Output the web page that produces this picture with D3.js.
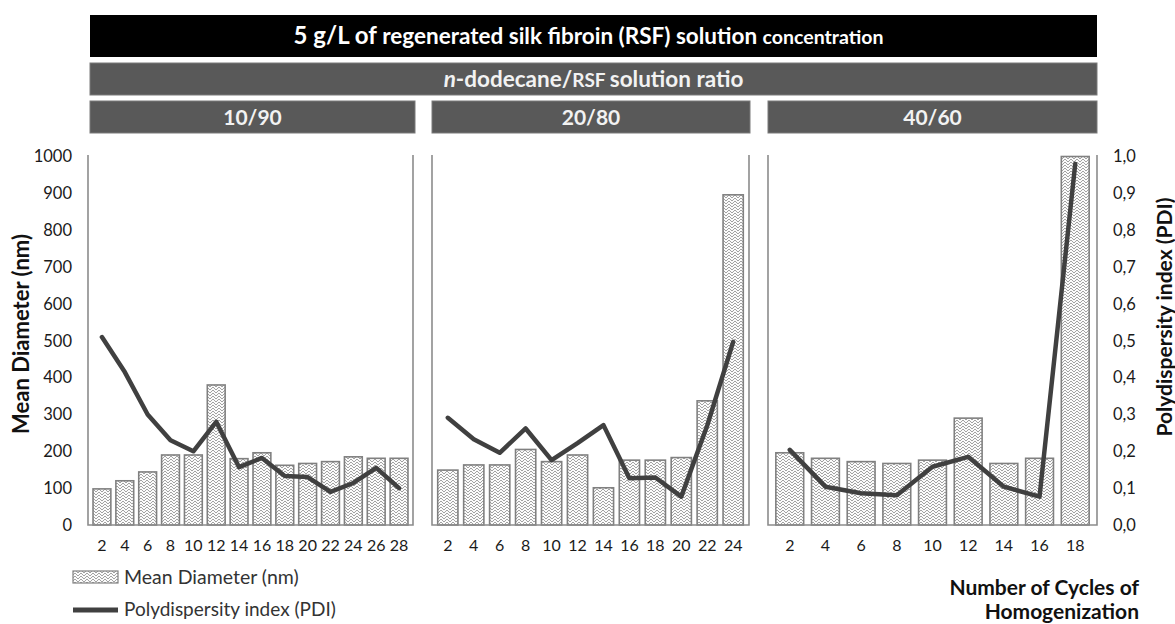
<!DOCTYPE html>
<html>
<head>
<meta charset="utf-8">
<script src="https://cdn.jsdelivr.net/npm/d3@7"></script>
<style>
  body { margin: 0; background: #fff; }
  svg { display: block; }
  text { font-family: Lato, "Open Sans", sans-serif; }
</style>
</head>
<body>
<svg id="chart" width="1175" height="624"></svg>
<script>
// ---- data -------------------------------------------------------------
const ratios = ["10/90", "20/80", "40/60"];

const cycles1   = [2, 4, 6, 8, 10, 12, 14, 16, 18, 20, 22, 24, 26, 28];
const diameter1 = [98, 120, 144, 190, 190, 380, 180, 196, 162, 167, 172, 185, 181, 181];
const pdi1      = [0.51, 0.415, 0.30, 0.23, 0.20, 0.28, 0.157, 0.182, 0.133, 0.13, 0.09, 0.114, 0.155, 0.10];

const cycles2   = [2, 4, 6, 8, 10, 12, 14, 16, 18, 20, 22, 24];
const diameter2 = [149, 163, 163, 205, 172, 190, 101, 176, 176, 183, 337, 896];
const pdi2      = [0.291, 0.233, 0.196, 0.262, 0.176, 0.222, 0.271, 0.127, 0.129, 0.077, 0.27, 0.497];

const cycles3   = [2, 4, 6, 8, 10, 12, 14, 16, 18];
const diameter3 = [196, 181, 172, 167, 176, 290, 167, 181, 1000];
const pdi3      = [0.204, 0.104, 0.086, 0.081, 0.158, 0.185, 0.104, 0.077, 0.98];

const diameterTicks = [0, 100, 200, 300, 400, 500, 600, 700, 800, 900, 1000];
const pdiTicks      = [0, 0.1, 0.2, 0.3, 0.4, 0.5, 0.6, 0.7, 0.8, 0.9, 1.0];

const panels = [
  { ratio: ratios[0], cycles: cycles1, diameter: diameter1, pdi: pdi1 },
  { ratio: ratios[1], cycles: cycles2, diameter: diameter2, pdi: pdi2 },
  { ratio: ratios[2], cycles: cycles3, diameter: diameter3, pdi: pdi3 }
];

// ---- layout -----------------------------------------------------------
const svg = d3.select("#chart");
const plotTop = 156.5, plotBottom = 525, frameTop = 155;
const panelX = [[88, 413], [432, 749], [768, 1097]];
const headerX = [[90, 415], [432, 750], [768, 1097]];
const bannerX = [90, 1097];

const yDia = d3.scaleLinear().domain([0, 1000]).range([plotBottom, plotTop]);
const yPdi = d3.scaleLinear().domain([0, 1]).range([plotBottom, plotTop]);

// zig-zag hatch used as the bar fill
const defs = svg.append("defs");
const pat = defs.append("pattern")
  .attr("id", "hatch").attr("patternUnits", "userSpaceOnUse")
  .attr("width", 6).attr("height", 6);
pat.append("rect").attr("width", 6).attr("height", 6).attr("fill", "#fbfbfb");
pat.append("path")
  .attr("d", "M0,3 L3,0 L6,3 M0,6 L3,3 L6,6")
  .attr("fill", "none").attr("stroke", "#a2a2a2").attr("stroke-width", 1);

// ---- banners ----------------------------------------------------------
svg.append("rect").attr("x", bannerX[0]).attr("y", 15)
  .attr("width", bannerX[1] - bannerX[0]).attr("height", 42).attr("fill", "#000");
const t1 = svg.append("text").attr("x", (bannerX[0] + bannerX[1]) / 2 - 5).attr("y", 44)
  .attr("text-anchor", "middle").attr("fill", "#fff").attr("font-weight", "bold");
t1.append("tspan").attr("font-size", 24).text("5 g/L of ");
t1.append("tspan").attr("font-size", 22.5).text("regenerated silk fibroin (RSF) solution ");
t1.append("tspan").attr("font-size", 19.5).text("concentration");

svg.append("rect").attr("x", bannerX[0]).attr("y", 63)
  .attr("width", bannerX[1] - bannerX[0]).attr("height", 32)
  .attr("fill", "#595959").attr("stroke", "#7a7a7a").attr("stroke-width", 1);
const t2 = svg.append("text").attr("x", (bannerX[0] + bannerX[1]) / 2).attr("y", 87)
  .attr("text-anchor", "middle").attr("fill", "#f2f2f2").attr("font-size", 22.5)
  .attr("font-weight", "bold");
t2.append("tspan").attr("font-style", "italic").text("n");
t2.append("tspan").text("-dodecane/");
t2.append("tspan").attr("font-size", 19).text("RSF ");
t2.append("tspan").text(" solution ratio");

// ---- panels -----------------------------------------------------------
panels.forEach((p, i) => {
  const [x0, x1] = panelX[i];
  const [hx0, hx1] = headerX[i];

  svg.append("rect").attr("x", hx0).attr("y", 101)
    .attr("width", hx1 - hx0).attr("height", 32)
    .attr("fill", "#595959").attr("stroke", "#7a7a7a").attr("stroke-width", 1);
  svg.append("text").attr("x", (hx0 + hx1) / 2).attr("y", 124.5)
    .attr("text-anchor", "middle").attr("fill", "#f2f2f2")
    .attr("font-size", 21).attr("font-weight", "bold").text(p.ratio);

  const x = d3.scaleBand().domain(p.cycles).range([x0, x1]).padding(0.22);
  const g = svg.append("g");

  // bars
  g.selectAll("rect.bar").data(p.cycles).join("rect")
    .attr("class", "bar")
    .attr("x", d => x(d))
    .attr("width", x.bandwidth())
    .attr("y", (d, j) => yDia(p.diameter[j]))
    .attr("height", (d, j) => yDia(0) - yDia(p.diameter[j]))
    .attr("fill", "url(#hatch)")
    .attr("stroke", "#808080").attr("stroke-width", 1.6);

  // frame: side lines and baseline
  g.append("path")
    .attr("d", `M${x0},${frameTop} V${plotBottom} H${x1} V${frameTop}`)
    .attr("fill", "none").attr("stroke", "#8c8c8c").attr("stroke-width", 1.6);

  // PDI line
  const line = d3.line()
    .x((d, j) => x(p.cycles[j]) + x.bandwidth() / 2)
    .y(d => yPdi(d));
  g.append("path").datum(p.pdi)
    .attr("d", line)
    .attr("fill", "none").attr("stroke", "#404040")
    .attr("stroke-width", 4.5).attr("stroke-linejoin", "round").attr("stroke-linecap", "round");

  // x axis labels
  const xAxis = d3.axisBottom(x).tickSize(0).tickPadding(0);
  const ax = svg.append("g").attr("transform", `translate(0,${plotBottom + 15})`).call(xAxis);
  ax.select(".domain").remove();
  ax.selectAll("text").attr("font-size", 16).attr("fill", "#1a1a1a")
    .attr("font-family", "Lato, sans-serif");
});

// ---- value axes -------------------------------------------------------
const leftAxis = d3.axisLeft(yDia).tickValues(diameterTicks).tickFormat(d3.format("d"))
  .tickSize(0).tickPadding(0);
const la = svg.append("g").attr("transform", "translate(72,0)").call(leftAxis);
la.select(".domain").remove();
la.selectAll("text").attr("font-size", 16.5).attr("fill", "#1a1a1a").attr("font-family", "Lato, sans-serif");

const fmt = d => d3.format(".1f")(d).replace(".", ",");
const rightAxis = d3.axisRight(yPdi).tickValues(pdiTicks).tickFormat(fmt).tickSize(0).tickPadding(0);
const ra = svg.append("g").attr("transform", "translate(1113,0)").call(rightAxis);
ra.select(".domain").remove();
ra.selectAll("text").attr("font-size", 16.5).attr("fill", "#1a1a1a").attr("font-family", "Lato, sans-serif");

// axis titles
svg.append("text")
  .attr("transform", "translate(29,334) rotate(-90)")
  .attr("text-anchor", "middle").attr("font-weight", "bold")
  .attr("font-size", 22).attr("fill", "#111").text("Mean Diameter (nm)");
svg.append("text")
  .attr("transform", "translate(1172,317) rotate(-90)")
  .attr("text-anchor", "middle").attr("font-weight", "bold")
  .attr("font-size", 21).attr("fill", "#111").text("Polydispersity index (PDI)");

svg.append("text").attr("x", 1139).attr("y", 595)
  .attr("text-anchor", "end").attr("font-weight", "bold")
  .attr("font-size", 21).attr("fill", "#111").text("Number of Cycles of");
svg.append("text").attr("x", 1139).attr("y", 619)
  .attr("text-anchor", "end").attr("font-weight", "bold")
  .attr("font-size", 21).attr("fill", "#111").text("Homogenization");

// ---- legend -----------------------------------------------------------
const legend = svg.append("g");
legend.append("rect").attr("x", 73).attr("y", 571).attr("width", 45).attr("height", 12)
  .attr("fill", "url(#hatch)").attr("stroke", "#808080").attr("stroke-width", 1.2);
legend.append("text").attr("x", 124).attr("y", 584).attr("font-size", 19.5)
  .attr("fill", "#333").text("Mean Diameter (nm)");
legend.append("line").attr("x1", 73).attr("x2", 118).attr("y1", 610).attr("y2", 610)
  .attr("stroke", "#404040").attr("stroke-width", 5);
legend.append("text").attr("x", 124).attr("y", 616).attr("font-size", 19)
  .attr("fill", "#333").text("Polydispersity index (PDI)");
</script>
</body>
</html>
